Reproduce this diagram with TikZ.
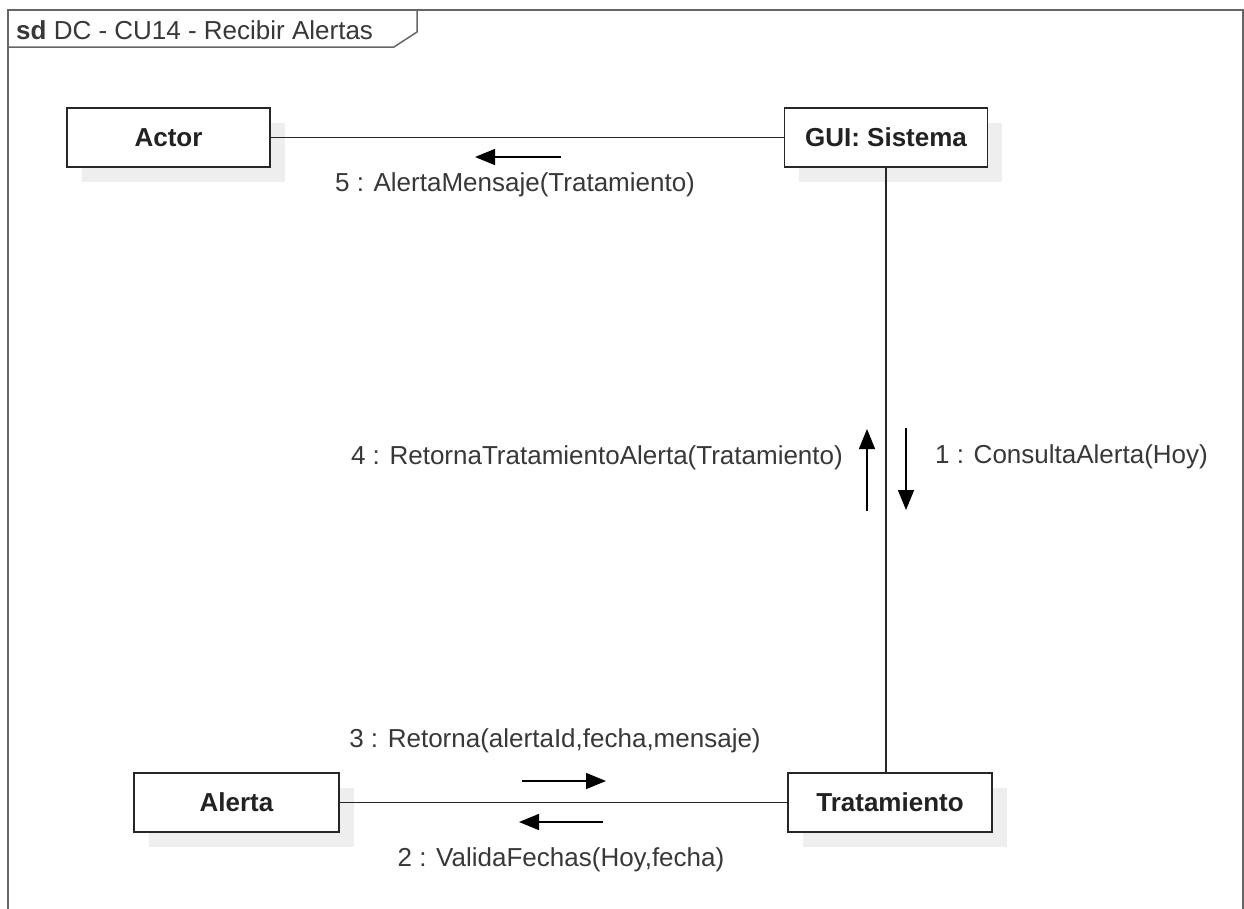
\documentclass[tikz,border=0pt]{standalone}
\usepackage{fontspec}
\setmainfont{Liberation Sans}
\usetikzlibrary{arrows.meta}
\definecolor{shad}{HTML}{EEEEEE}
\definecolor{txt}{HTML}{222222}
\tikzset{
  obj/.style={draw=black!85, line width=1.8pt, fill=white, minimum width=203pt, minimum height=59pt, inner sep=0pt, font=\fontsize{26}{28}\selectfont\bfseries, text=txt},
  link/.style={draw=black!85, line width=1.8pt},
  msg/.style={draw=black, line width=1.5pt, -{Triangle[length=20pt,width=16pt]}},
  lbl/.style={font=\fontsize{26}{28}\selectfont, text=txt!90, inner sep=0pt},
}
\begin{document}
\begin{tikzpicture}[x=1pt,y=-1pt]
\useasboundingbox (0,0) rectangle (1244,908);
\fill[white] (0,0) rectangle (1244,908);
% frame
\draw[draw=black!60, line width=1.5pt] (8,915) -- (8,10) -- (1243,10) -- (1243,915);
\draw[draw=black!60, line width=1.5pt] (8,47) -- (394,47) -- (417,32) -- (417,10);
\node[lbl, anchor=west] (title) at (16,30) {\textbf{sd}\ DC - CU14 - Recibir Alertas};
% shadows
\fill[shad] (82,123) rectangle (285,182);
\fill[shad] (799,123) rectangle (1002,182);
\fill[shad] (149,788) rectangle (354,847);
\fill[shad] (803,788) rectangle (1007,847);
% objects
\node[obj] (actor) at (168.5,137.5) {Actor};
\node[obj] (gui) at (886,137.5) {GUI: Sistema};
\node[obj, minimum width=205pt] (alerta) at (236.5,802.5) {Alerta};
\node[obj, minimum width=204pt] (trat) at (890,802.5) {Tratamiento};
% links
\draw[link] (actor.east) -- (gui.west);
\draw[link] (gui.south -| 886,0) -- (trat.north -| 886,0);
\draw[link] (alerta.east) -- (trat.west);
% message arrows
\coordinate (m5a) at (561,157); \coordinate (m5b) at (475,157);
\draw[msg] (m5a) -- (m5b);
\node[lbl] (l5) at (515,185) {5 : AlertaMensaje(Tratamiento)};
\coordinate (m4a) at (867,511); \coordinate (m4b) at (867,429);
\draw[msg] (m4a) -- (m4b);
\node[lbl, anchor=east] (l4) at (843,458) {4 : RetornaTratamientoAlerta(Tratamiento)};
\coordinate (m1a) at (906,428); \coordinate (m1b) at (906,510);
\draw[msg] (m1a) -- (m1b);
\node[lbl, anchor=west] (l1) at (935,457) {1 : ConsultaAlerta(Hoy)};
\coordinate (m3a) at (522,781); \coordinate (m3b) at (606,781);
\draw[msg] (m3a) -- (m3b);
\node[lbl] (l3) at (555,741) {3 : Retorna(alertaId,fecha,mensaje)};
\coordinate (m2a) at (603,822); \coordinate (m2b) at (519,822);
\draw[msg] (m2a) -- (m2b);
\node[lbl] (l2) at (561,860) {2 : ValidaFechas(Hoy,fecha)};
\end{tikzpicture}
\end{document}
